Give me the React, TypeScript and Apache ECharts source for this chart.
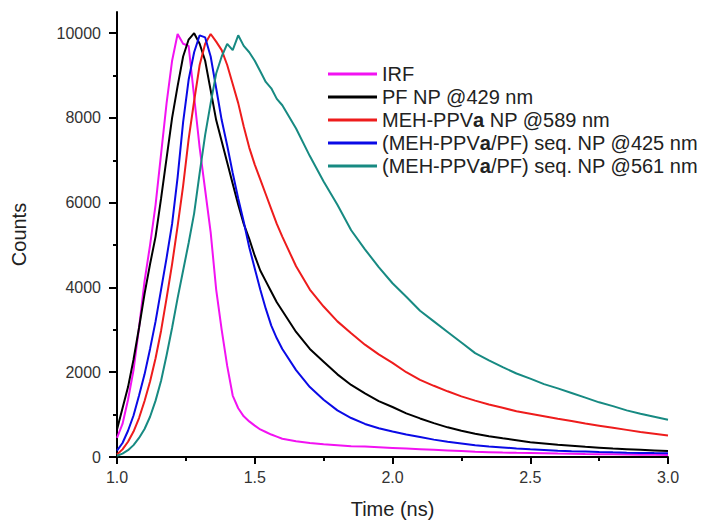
import React, { useEffect, useRef } from 'react';
import * as echarts from 'echarts';

const times = [
  1.0, 1.02, 1.04, 1.06, 1.08, 1.1, 1.12, 1.14, 1.16, 1.18, 1.2, 1.22, 1.24, 1.26, 1.28, 1.3,
  1.32, 1.34, 1.36, 1.38, 1.4, 1.42, 1.44, 1.46, 1.48, 1.5, 1.52, 1.54, 1.56, 1.58, 1.6,
  1.65, 1.7, 1.75, 1.8, 1.85, 1.9, 1.95, 2.0, 2.05, 2.1, 2.15, 2.2, 2.25, 2.3, 2.35, 2.4,
  2.45, 2.5, 2.55, 2.6, 2.65, 2.7, 2.75, 2.8, 2.85, 2.9, 2.95, 3.0,
];

const irf = [
  450, 780, 1350, 2050, 3050, 4150, 5000, 5950, 7150, 8350, 9350, 9980, 9750, 9700, 8500, 7300,
  6300, 5300, 3950, 3000, 2150, 1450, 1150, 960, 840, 740, 650, 590, 530, 480, 430,
  370, 330, 300, 280, 255, 245, 230, 215, 200, 185, 170, 155, 140, 125, 115, 105,
  98, 92, 86, 80, 75, 70, 66, 62, 58, 55, 52, 50,
];

const pfNp429 = [
  650, 1150, 1650, 2300, 3050, 3850, 4550, 5200, 6100, 7050, 8000, 8750, 9450, 9850, 10000, 9750,
  9350, 8650, 7950, 7450, 6950, 6450, 5950, 5500, 5150, 4750, 4400, 4150, 3900, 3650, 3450,
  2950, 2550, 2250, 1950, 1700, 1500, 1320, 1180, 1030, 910, 800, 700, 620, 550, 490, 440,
  395, 350, 320, 290, 265, 240, 220, 200, 185, 170, 155, 140,
];

const mehNp589 = [
  60, 180, 360, 600, 920, 1320, 1780, 2330, 2980, 3750, 4550, 5450, 6400, 7500, 8400, 9250,
  9750, 9980, 9800, 9600, 9250, 8800, 8350, 7800, 7300, 6900, 6550, 6200, 5850, 5500, 5200,
  4500, 3950, 3550, 3200, 2920, 2650, 2420, 2220, 2000, 1820, 1680, 1550, 1430, 1330, 1240, 1160,
  1080, 1020, 960, 900, 850, 790, 740, 690, 640, 590, 550, 510,
];

const seqNp425 = [
  150, 330, 620, 980, 1450, 1950, 2550, 3200, 3950, 4700, 5500, 6600, 7900, 8900, 9550, 9950,
  9900, 9450, 8700, 7950, 7350, 6700, 6100, 5550, 4950, 4450, 3950, 3500, 3100, 2800, 2550,
  2050, 1650, 1350, 1100, 920, 780, 680, 600, 530, 470, 410, 360, 320, 280, 250, 225,
  200, 180, 165, 150, 138, 128, 118, 110, 103, 97, 92, 88,
];

const seqNp561 = [
  30, 80, 160, 280, 450, 660, 950, 1330, 1800, 2400, 3050, 3750, 4400, 5050, 5750, 6700,
  7600, 8350, 9050, 9450, 9750, 9600, 9950, 9700, 9550, 9350, 9100, 8850, 8700, 8450, 8300,
  7750, 7100, 6500, 5950, 5350, 4900, 4480, 4100, 3780, 3450, 3200, 2950, 2700, 2450, 2280, 2120,
  1970, 1850, 1720, 1620, 1510, 1400, 1290, 1200, 1100, 1020, 950, 880,
];

const seriesNames = [
  'IRF',
  'PF NP @429 nm',
  'MEH-PPVa NP @589 nm',
  '(MEH-PPVa/PF) seq. NP @425 nm',
  '(MEH-PPVa/PF) seq. NP @561 nm',
];
const seriesValues = [irf, pfNp429, mehNp589, seqNp425, seqNp561];
const seriesColors = ['#f212f2', '#000000', '#ee1c1c', '#0a0ae6', '#178a82'];

const xTickLabels = [1.0, 1.5, 2.0, 2.5, 3.0];
const yMajorTicks = [0, 2000, 4000, 6000, 8000, 10000];
const yMinorTicks = [1000, 3000, 5000, 7000, 9000];

const FONT = '"Liberation Sans", Arial, Helvetica, sans-serif';

export default function App() {
  const ref = useRef<HTMLDivElement>(null);

  useEffect(() => {
    document.body.style.margin = '0';
    if (!ref.current) return;
    const chart = echarts.init(ref.current, undefined, { renderer: 'svg' });
    const axisColor = '#000';
    chart.setOption({
      animation: false,
      backgroundColor: '#ffffff',
      grid: { left: 117, right: 36, top: 12, bottom: 65 },
      legend: {
        orient: 'vertical',
        left: 323,
        top: 59,
        itemWidth: 49,
        itemHeight: 3,
        itemGap: 3,
        icon: 'rect',
        data: seriesNames,
        formatter: (name: string) => name.replace('PPVa', 'PPV{b|a}'),
        textStyle: {
          fontFamily: FONT,
          fontSize: 20,
          color: '#222',
          lineHeight: 20,
          rich: {
            b: { fontFamily: FONT, fontSize: 20, fontWeight: 'bold', color: '#222', lineHeight: 20 },
          },
        },
      },
      xAxis: {
        type: 'value',
        min: 1,
        max: 3,
        interval: 0.5,
        name: 'Time (ns)',
        nameLocation: 'middle',
        nameGap: 42,
        nameTextStyle: { fontFamily: FONT, fontSize: 20, color: '#222' },
        axisLine: { show: true, onZero: false, lineStyle: { color: axisColor, width: 2 } },
        axisTick: { show: true, length: 7, lineStyle: { color: axisColor, width: 2 }, customValues: xTickLabels },
        minorTick: { show: true, splitNumber: 2, length: 4, lineStyle: { color: axisColor, width: 2 } },
        splitLine: { show: false },
        axisLabel: {
          customValues: xTickLabels,
          formatter: (v: number) => v.toFixed(1),
          fontFamily: FONT,
          fontSize: 16,
          color: '#333',
          margin: 12,
        },
      },
      yAxis: [
        {
          type: 'value',
          min: 0,
          max: 10500,
          position: 'left',
          name: 'Counts',
          nameLocation: 'middle',
          nameGap: 88,
          nameRotate: 90,
          nameTextStyle: { fontFamily: FONT, fontSize: 20, color: '#222' },
          axisLine: { show: true, lineStyle: { color: axisColor, width: 2 } },
          axisTick: { show: true, length: 8, lineStyle: { color: axisColor, width: 2 }, customValues: yMajorTicks },
          splitLine: { show: false },
          axisLabel: {
            customValues: yMajorTicks,
            formatter: (v: number) => String(v),
            fontFamily: FONT,
            fontSize: 16,
            color: '#333',
            margin: 16,
          },
        },
        {
          type: 'value',
          min: 0,
          max: 10500,
          position: 'left',
          offset: 0,
          axisLine: { show: false },
          axisTick: { show: true, length: 4, lineStyle: { color: axisColor, width: 2 }, customValues: yMinorTicks },
          splitLine: { show: false },
          axisLabel: { show: false },
        },
      ],
      series: seriesNames.map((name, i) => ({
        name,
        type: 'line',
        xAxisIndex: 0,
        yAxisIndex: 0,
        showSymbol: false,
        symbol: 'none',
        color: seriesColors[i],
        lineStyle: { color: seriesColors[i], width: 2 },
        emphasis: { disabled: true },
        data: times.map((t, j) => [t, seriesValues[i][j]]),
      })),
    });
    return () => chart.dispose();
  }, []);

  return <div ref={ref} style={{ width: 704, height: 524 }} />;
}
